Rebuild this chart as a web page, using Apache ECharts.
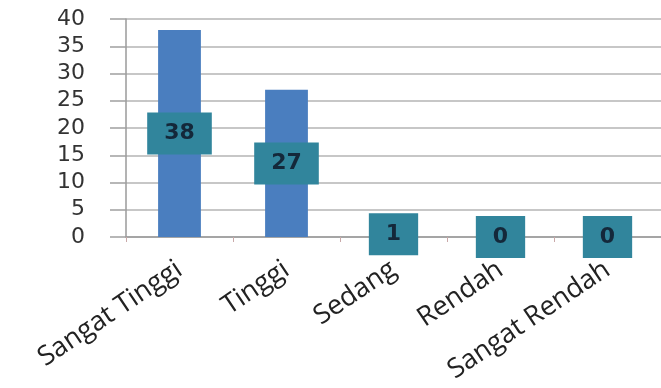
<!DOCTYPE html>
<html lang="id">
<head>
<meta charset="UTF-8" />
<title>Kategori</title>
<script src="https://cdn.jsdelivr.net/npm/echarts@6/dist/echarts.min.js"></script>
<style>
  html, body { margin: 0; padding: 0; background: #fff; }
  #chart { width: 661px; height: 388px; }
</style>
</head>
<body>
<div id="chart"></div>
<script>
  const categories = ["Sangat Tinggi", "Tinggi", "Sedang", "Rendah", "Sangat Rendah"];
  const values = [38, 27, 1, 0, 0];
  const yTicks = { min: 0, max: 40, step: 5 };

  const chart = echarts.init(document.getElementById("chart"));
  chart.setOption({
    animation: false,
    grid: { left: 126, top: 19, bottom: 151, width: 540 },
    xAxis: {
      type: "category",
      data: categories,
      axisLine: { lineStyle: { color: "#9a9a9a", width: 1.5 } },
      axisTick: { show: true, length: 5, inside: false, lineStyle: { color: "#c9a9a9" } },
      axisLabel: {
        rotate: 34,
        margin: 30,
        interval: 0,
        fontFamily: "Open Sans",
        fontSize: 27,
        color: "#222"
      }
    },
    yAxis: {
      type: "value",
      min: yTicks.min,
      max: yTicks.max,
      interval: yTicks.step,
      axisLine: { show: true, lineStyle: { color: "#9a9a9a", width: 1.5 } },
      axisTick: { show: true, length: 16, lineStyle: { color: "#a0a0a0", width: 1.5 } },
      splitLine: { lineStyle: { color: "#b4b4b4", width: 1.5 } },
      axisLabel: {
        margin: 41,
        fontFamily: "DejaVu Sans",
        fontSize: 22,
        color: "#333"
      }
    },
    series: [{
      type: "bar",
      data: values,
      barWidth: "40%",
      itemStyle: { color: "#4a7ebf" },
      label: {
        show: true,
        position: "inside",
        backgroundColor: "#31859c",
        padding: [10, 17],
        color: "#14283a",
        fontFamily: "DejaVu Sans",
        fontWeight: "bold",
        fontSize: 22
      }
    }]
  });
</script>
</body>
</html>
